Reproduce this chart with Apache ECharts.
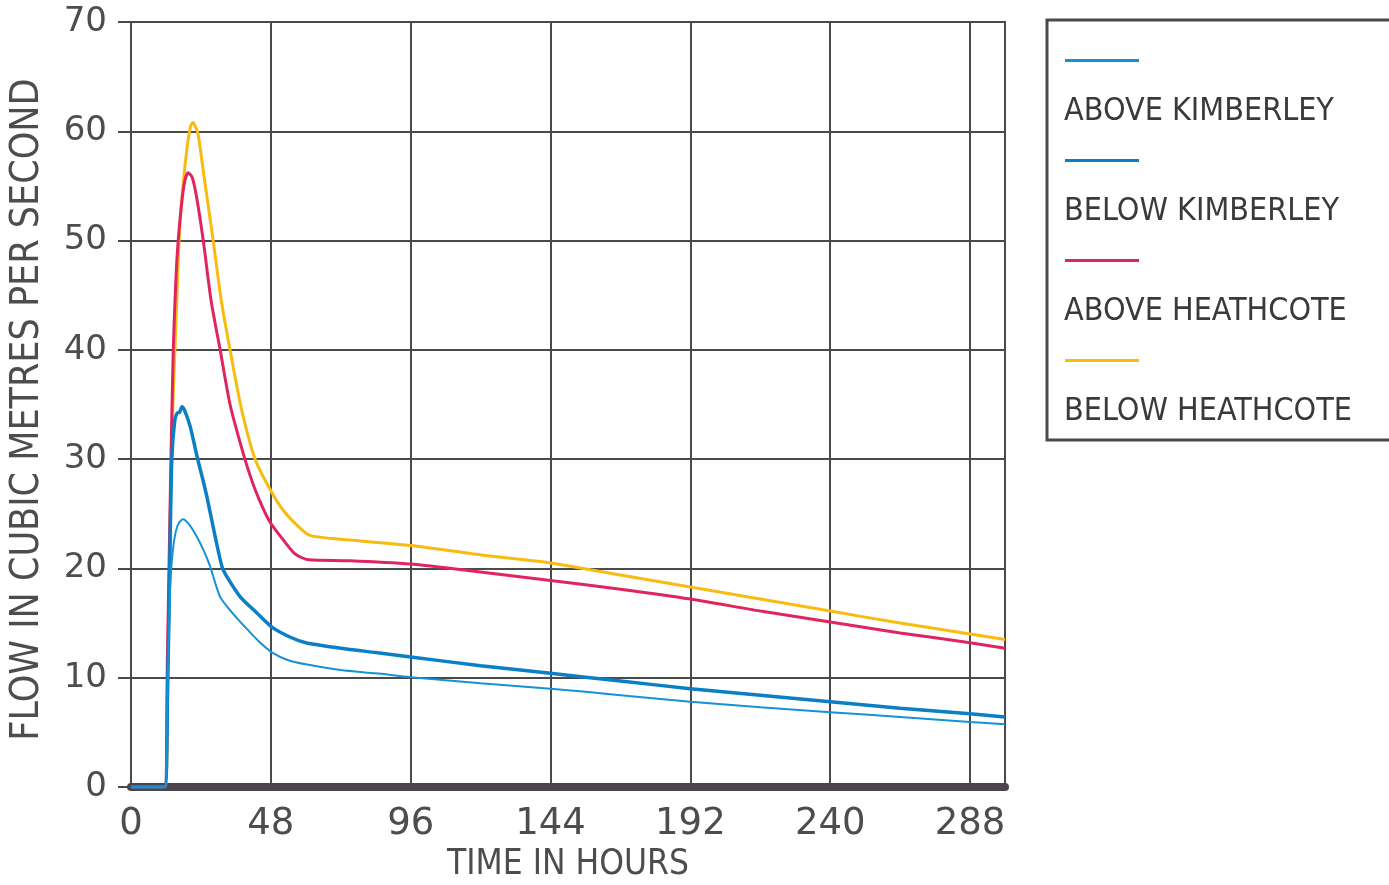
<!DOCTYPE html>
<html>
<head>
<meta charset="utf-8">
<script src="https://cdn.jsdelivr.net/npm/echarts@6/dist/echarts.min.js"></script>
<style>
html,body{margin:0;padding:0;background:#fff;}
#chart{width:1389px;height:885px;}
</style>
</head>
<body>
<div id="chart"></div>
<script>
// ---- data (hours, flow in m3/s) ----
const seriesNames = ['ABOVE KIMBERLEY', 'BELOW KIMBERLEY', 'ABOVE HEATHCOTE', 'BELOW HEATHCOTE'];
const xTicks = [0, 48, 96, 144, 192, 240, 288];

const akHours = [0, 11.5, 12.5, 13.4, 14.3, 15.3, 16.5, 17.9, 20, 22.6, 25, 27, 29, 30.6, 33, 36.5, 40, 44, 48.5, 54, 60.5, 72, 84, 96, 120, 144, 168, 192, 216, 240, 264, 288, 300];
const akFlow  = [0, 0, 8, 18, 21.5, 23.3, 24.2, 24.5, 24.0, 22.9, 21.6, 20.3, 18.6, 17.4, 16.5, 15.4, 14.4, 13.3, 12.3, 11.6, 11.2, 10.7, 10.4, 10.05, 9.5, 9.0, 8.4, 7.8, 7.3, 6.85, 6.4, 5.95, 5.75];

const bkHours = [0, 11.5, 12.5, 13.3, 14, 15, 15.8, 16.7, 17.5, 18.5, 20.3, 22.7, 24.5, 26.1, 28.9, 31.3, 33, 37.5, 43.3, 48.5, 54.7, 60, 72, 84, 96, 120, 144, 168, 192, 216, 240, 264, 288, 300];
const bkFlow  = [0, 0, 8, 20, 30, 33.5, 34.2, 34.3, 34.8, 34.4, 33, 30.2, 28.3, 26.5, 22.9, 20.1, 19.2, 17.4, 15.9, 14.6, 13.7, 13.2, 12.7, 12.3, 11.9, 11.1, 10.4, 9.7, 9.0, 8.4, 7.8, 7.2, 6.7, 6.4];

const ahHours = [0, 11.5, 12.5, 13.5, 14.5, 15.5, 16.2, 17.5, 18.5, 19.6, 21, 22.5, 24.8, 27.5, 30.6, 34, 38, 41, 44, 47.8, 52.3, 56, 58.5, 61, 75, 96, 110, 144, 168, 192, 216, 240, 264, 288, 300];
const ahFlow  = [0, 0, 12, 27, 40, 47, 50, 53.7, 55.5, 56.2, 55.8, 54, 50, 44.5, 40, 35, 31, 28.4, 26.3, 24.2, 22.6, 21.4, 21.0, 20.8, 20.7, 20.4, 20.0, 18.9, 18.1, 17.2, 16.1, 15.1, 14.1, 13.2, 12.7];

const bhHours = [0, 11.7, 12.5, 13.5, 14.5, 15.1, 16.5, 17.5, 18.6, 19.5, 20.5, 21.3, 22, 23, 25, 28.2, 31, 34, 38, 42.6, 47.8, 52.3, 58, 61.6, 75, 96, 121, 144, 168, 192, 216, 240, 264, 288, 300];
const bhFlow  = [0, 0, 8, 25, 36, 40, 50, 54, 57, 59, 60.5, 60.8, 60.5, 59.8, 56, 50, 44.5, 40, 34.5, 30, 27.2, 25.3, 23.7, 23.0, 22.6, 22.1, 21.2, 20.5, 19.4, 18.3, 17.2, 16.1, 15.0, 14.0, 13.5];

function zip(h, v) { return h.map((x, i) => [x, v[i]]); }

const gridColor = '#4a4a4a';
const labelColor = '#4d4d4d';
const narrow = "'Liberation Sans Narrow', 'DejaVu Sans Condensed', 'Liberation Sans', sans-serif";

const chart = echarts.init(document.getElementById('chart'));
const lineSeries = (name, data, color, width, z) => ({
  name, type: 'line', data, symbol: 'none', smooth: 0.25, z,
  lineStyle: { color, width }, itemStyle: { color }
});

chart.setOption({
  animation: false,
  backgroundColor: '#fff',
  grid: { left: 131, right: 384, top: 22, bottom: 98, outerBoundsMode: 'none', containLabel: false,
    show: true, borderColor: gridColor, borderWidth: 2 },
  graphic: [{
    type: 'rect', z: 0,
    shape: { x: 1047, y: 20, width: 420, height: 420 },
    style: { fill: '#fff', stroke: gridColor, lineWidth: 3 }
  }],
  legend: [{
    data: seriesNames, orient: 'vertical', left: 1060, top: 54,
    icon: 'rect', itemWidth: 74, itemHeight: 3, itemGap: 97,
    formatter: () => '', textStyle: { fontSize: 1 }
  }, {
    data: seriesNames, orient: 'vertical', left: 1053, top: 90,
    itemWidth: 0, itemHeight: 0, itemGap: 66,
    textStyle: { fontFamily: narrow, fontSize: 32, lineHeight: 34, color: '#3a3a3a' }
  }],
  xAxis: {
    type: 'value', min: 0, max: 300, interval: 48,
    name: 'TIME IN HOURS', nameLocation: 'middle', nameGap: 60,
    nameTextStyle: { fontFamily: narrow, fontSize: 35, color: labelColor },
    axisLine: { show: true, lineStyle: { color: '#4d434b', width: 8 } },
    axisTick: { show: false },
    axisLabel: { showMaxLabel: false, margin: 19, fontFamily: 'DejaVu Sans', fontSize: 37, color: labelColor,
      formatter: v => (xTicks.indexOf(v) >= 0 ? String(v) : '') },
    splitLine: { show: true, lineStyle: { color: gridColor, width: 2 } }
  },
  yAxis: {
    type: 'value', min: 0, max: 70, interval: 10,
    name: 'FLOW IN CUBIC METRES PER SECOND', nameLocation: 'middle', nameGap: 84,
    nameTextStyle: { fontFamily: narrow, fontSize: 39, color: labelColor, padding: [0, 10, 0, 0] },
    axisLine: { show: true, lineStyle: { color: gridColor, width: 2 } },
    axisTick: { show: true, length: 13, lineStyle: { color: gridColor, width: 2 } },
    axisLabel: { margin: 24, fontFamily: 'DejaVu Sans', fontSize: 34, color: labelColor },
    splitLine: { show: true, lineStyle: { color: gridColor, width: 2 } }
  },
  series: [
    lineSeries('ABOVE KIMBERLEY', zip(akHours, akFlow), '#1592d6', 2, 5),
    lineSeries('BELOW KIMBERLEY', zip(bkHours, bkFlow), '#0b7fc4', 3.5, 4),
    lineSeries('ABOVE HEATHCOTE', zip(ahHours, ahFlow), '#e0245f', 3, 3),
    lineSeries('BELOW HEATHCOTE', zip(bhHours, bhFlow), '#f8bb10', 3, 2)
  ]
});
</script>
</body>
</html>
